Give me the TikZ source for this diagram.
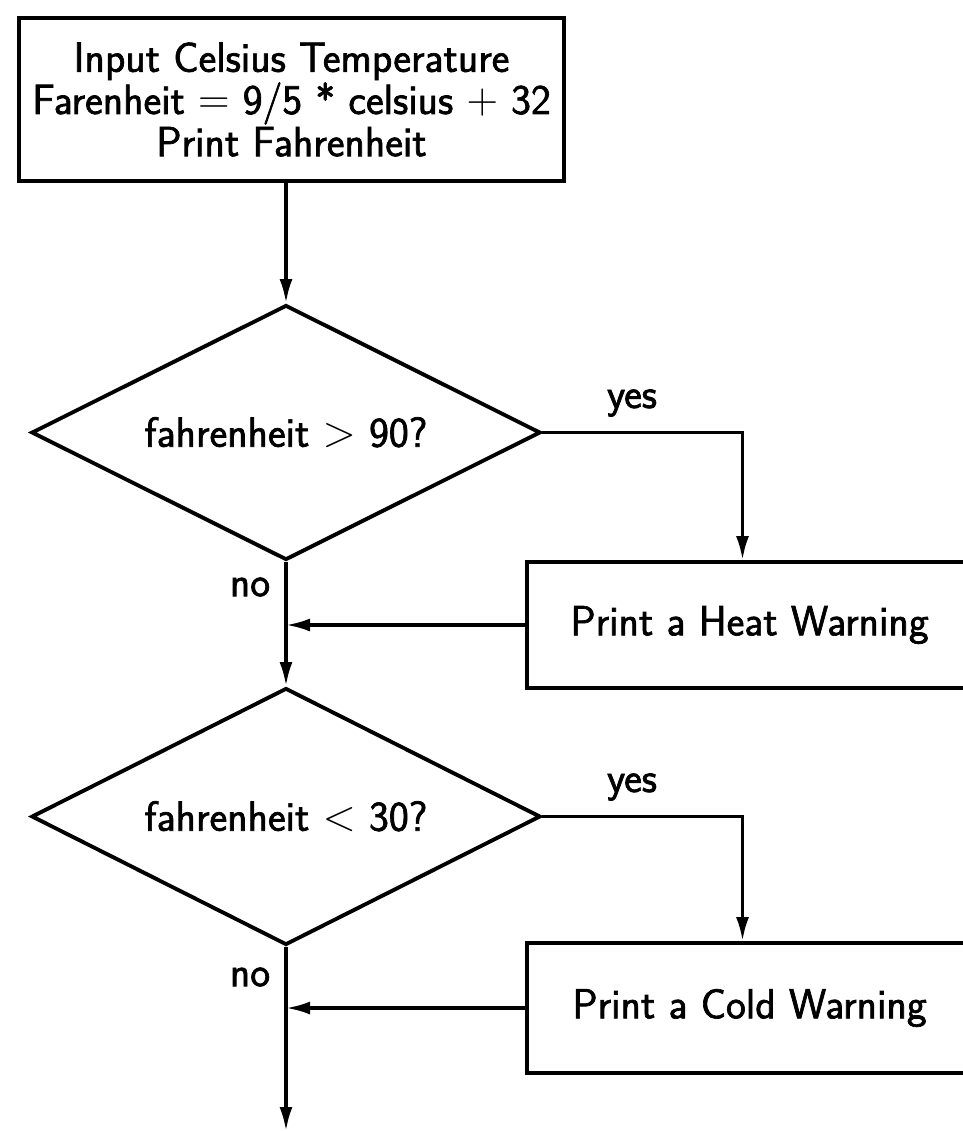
\documentclass[tikz,border=0pt]{standalone}
\usepackage{amsmath}
\usepackage{amssymb}
\usepackage{fontspec}
\usepackage{tikz}
\usetikzlibrary{shapes.geometric,arrows.meta}
\newfontfamily\flowfont{Latin Modern Sans}[FakeBold=1.6]

\begin{document}
\begin{tikzpicture}[every node/.style={font=\flowfont\fontsize{24}{24}\selectfont},
		block/.style={rectangle, draw=black, line width=2.2pt, align=center, inner sep=0pt},
		decision/.style={diamond, draw=black, line width=2.2pt, aspect=2, inner sep=0pt, minimum width=10.18cm, minimum height=5.1cm},
		flow/.style={draw=black, line width=1.9pt, -{Latex[length=4.8mm, width=2.6mm]}}]
			\useasboundingbox (0,0) rectangle (19.24,-22.62);
			\node[block, minimum width=10.9cm, minimum height=3.26cm] (input) at (5.83,-1.99){Input Celsius Temperature\\Farenheit $=$ 9/5 * celsius $+$ 32\\Print Fahrenheit};
			\node[decision] (hot) at (5.72,-8.65){fahrenheit $>$ 90?};
			\node[block, minimum width=8.9cm, minimum height=2.52cm] (heat) at (14.99,-12.5){Print a Heat Warning};
			\node[decision, minimum height=5.14cm] (cold) at (5.72,-16.33){fahrenheit $<$ 30?};
			\node[block, minimum width=8.9cm, minimum height=2.6cm] (warm) at (14.99,-20.16){Print a Cold Warning};
			\coordinate (end) at (5.72,-22.62);
			
			\node (yes1) at (12.64,-8.06){yes};
			\node (no1) at (5.0,-11.74){no};
			\node (yes2) at (12.64,-15.74){yes};
			\node (no2) at (5.0,-19.54){no};
			
			\path[flow] (hot.north |- input.south) -- (hot.north);
			\path[flow] (hot.east) -| ([xshift=-0.14cm]heat.north);
			\path[flow] (heat.west) -- (hot.south |- heat.west);
			\path[flow] (hot.south) -- (cold.north);
			\path[flow] (cold.east) -| ([xshift=-0.14cm]warm.north);
			\path[flow] (warm.west) -- (cold.south |- warm.west);
			\path[flow] (cold.south) -- (end);
			\end{tikzpicture}
\end{document}
